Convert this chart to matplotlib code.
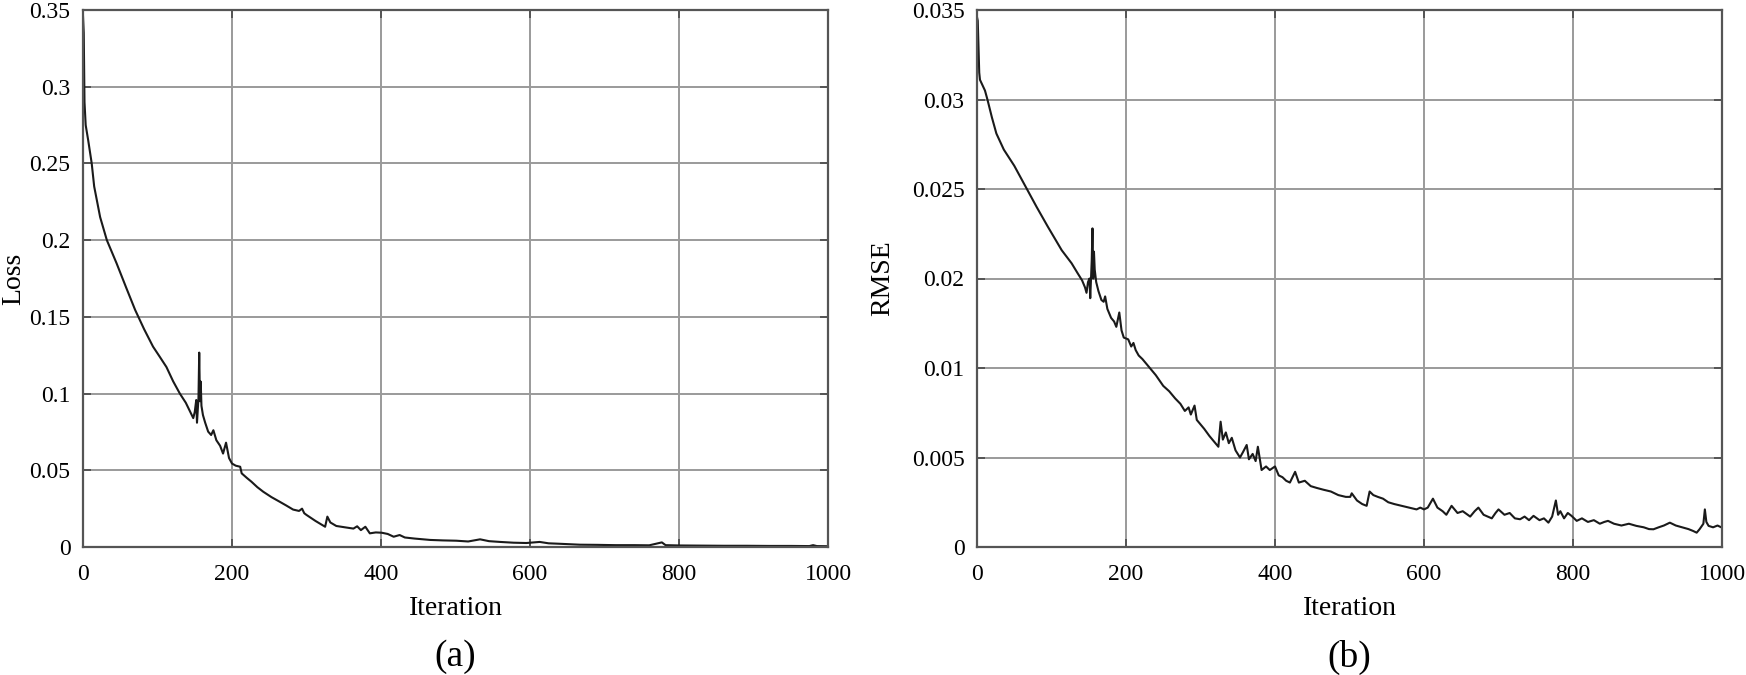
import matplotlib
matplotlib.use('Agg')
import matplotlib.pyplot as plt

# (a) Loss curve
loss_iter = [0, 1, 2, 3.6, 7, 11.7, 15, 23, 32, 45, 58, 70, 82, 94, 103, 112, 121, 130, 138,
             144, 148, 150, 152, 153, 155, 156, 157, 158, 159, 161, 164, 168, 172, 175, 179,
             184, 188, 192, 196, 200, 205, 211, 213, 220, 226, 234, 242, 253, 264, 273, 282,
             290, 294, 297, 300, 312, 325, 328, 332, 340, 352, 363, 368, 373, 379, 385, 393,
             401, 409, 417, 425, 432, 445, 466, 483, 501, 517, 533, 545, 560, 578, 595, 613,
             625, 640, 667, 690, 715, 740, 760, 777, 782, 800, 830, 860, 890, 920, 950, 975,
             980, 985, 1000]
loss_val = [0.346, 0.335, 0.29, 0.275, 0.265, 0.25, 0.235, 0.215, 0.200, 0.185, 0.169, 0.1545,
            0.142, 0.1306, 0.124, 0.1173, 0.108, 0.100, 0.094, 0.088, 0.084, 0.088, 0.0958,
            0.081, 0.097, 0.1267, 0.095, 0.1078, 0.092, 0.086, 0.081, 0.0752, 0.073, 0.0761,
            0.0696, 0.066, 0.0609, 0.068, 0.058, 0.0544, 0.053, 0.0523, 0.048, 0.045, 0.0426,
            0.039, 0.036, 0.0325, 0.0295, 0.027, 0.0244, 0.0235, 0.025, 0.022, 0.0209, 0.017,
            0.0132, 0.0198, 0.016, 0.0137, 0.0128, 0.012, 0.0135, 0.011, 0.0132, 0.0089,
            0.0095, 0.0093, 0.0085, 0.0067, 0.0078, 0.0062, 0.0055, 0.0046, 0.0043, 0.0041,
            0.0036, 0.005, 0.0038, 0.0033, 0.0028, 0.0026, 0.0033, 0.0024, 0.0021, 0.0015,
            0.0014, 0.0012, 0.0012, 0.0011, 0.0030, 0.0012, 0.0010, 0.0009, 0.0008, 0.0008,
            0.0007, 0.0007, 0.0006, 0.0012, 0.0006, 0.0005]

# (b) RMSE curve (in the axis' own grid units, top grid line = 0.03)
rmse_iter = [0, 1, 3, 4, 10.7, 14, 20, 26, 36, 50, 67, 80, 95, 113.7, 127, 135, 141, 145, 147,
             149, 151, 152, 154, 155, 156, 157, 158, 160, 163, 167, 170, 172, 175, 180, 184,
             187, 191, 194, 197, 203, 207, 210, 213, 217, 222, 226, 232, 240, 250, 258, 266,
             273, 279, 284, 287, 292, 295, 299, 305, 312, 318, 324, 327, 330, 334, 338, 342,
             347, 353, 357, 362, 365, 370, 374, 377, 382, 388, 393, 400, 405, 410, 415, 420,
             427, 432, 440, 448, 456, 465, 475, 485, 495, 501, 503, 510, 517, 523, 527, 532,
             538, 545, 552, 560, 570, 580, 590, 595, 600, 605, 612, 618, 625, 630, 637, 645,
             652, 662, 668, 673, 680, 691, 696, 700, 708, 715, 722, 729, 735, 741, 747, 755,
             761, 767, 772, 777, 780, 783, 788, 793, 798, 805, 812, 820, 828, 836, 842, 847,
             855, 865, 875, 885, 895, 902, 908, 915, 922, 930, 938, 948, 955, 961, 966, 970,
             973, 975, 977, 979, 982, 988, 994, 1000]
rmse_val = [0.0296, 0.0294, 0.0265, 0.0261, 0.0255, 0.0250, 0.0240, 0.0231, 0.0222, 0.0213,
            0.0200, 0.0190, 0.0179, 0.01658, 0.01585, 0.0153, 0.0149, 0.0145, 0.0142, 0.0148,
            0.0150, 0.0139, 0.0160, 0.0178, 0.0150, 0.0165, 0.0155, 0.0148, 0.0143, 0.0138,
            0.0137, 0.0140, 0.0133, 0.0128, 0.0126, 0.0123, 0.0131, 0.0121, 0.0117, 0.0116,
            0.0112, 0.0114, 0.0110, 0.0107, 0.0105, 0.0103, 0.0100, 0.0096, 0.0090, 0.0087,
            0.0083, 0.0080, 0.0076, 0.0078, 0.0074, 0.0079, 0.0071, 0.0069, 0.0066, 0.0062,
            0.0059, 0.0056, 0.0070, 0.0060, 0.0064, 0.0058, 0.0061, 0.0054, 0.0050, 0.0053,
            0.0057, 0.0049, 0.0052, 0.0048, 0.0056, 0.0043, 0.0045, 0.0043, 0.0045, 0.0040,
            0.0039, 0.0037, 0.0036, 0.0042, 0.0036, 0.0037, 0.0034, 0.0033, 0.0032, 0.0031,
            0.0029, 0.0028, 0.0028, 0.0030, 0.0026, 0.0024, 0.0023, 0.0031, 0.0029, 0.0028,
            0.0027, 0.0025, 0.0024, 0.0023, 0.0022, 0.0021, 0.0022, 0.0021, 0.0022, 0.0027,
            0.0022, 0.0020, 0.0018, 0.0023, 0.0019, 0.0020, 0.0017, 0.0020, 0.0022, 0.0018,
            0.0016, 0.0019, 0.0021, 0.0018, 0.0019, 0.0016, 0.00155, 0.0017, 0.0015, 0.00174,
            0.0015, 0.0016, 0.00136, 0.0017, 0.0026, 0.0018, 0.0020, 0.0016, 0.0019, 0.00174,
            0.00146, 0.0016, 0.0014, 0.0015, 0.0013, 0.0014, 0.00146, 0.0013, 0.0012, 0.0013,
            0.00118, 0.0011, 0.0010, 0.00099, 0.0011, 0.0012, 0.00136, 0.0012, 0.00108, 0.0010,
            0.0009, 0.0008, 0.0010, 0.00118, 0.0013, 0.0021, 0.0014, 0.00118, 0.0011, 0.0012,
            0.00108]

x_ticks = [0, 200, 400, 600, 800, 1000]
loss_ticks = [0, 0.05, 0.1, 0.15, 0.2, 0.25, 0.3, 0.35]
loss_tick_labels = ['0', '0.05', '0.1', '0.15', '0.2', '0.25', '0.3', '0.35']
rmse_ticks = [0, 0.005, 0.01, 0.015, 0.02, 0.025, 0.03]
rmse_tick_labels = ['0', '0.005', '0.01', '0.02', '0.025', '0.03', '0.035']

plt.rcParams['font.family'] = ['Liberation Serif', 'DejaVu Serif']

W, H = 1746, 675
fig = plt.figure(figsize=(W / 100, H / 100), dpi=100)

def make_ax(left_px):
    return fig.add_axes([left_px / W, (H - 547) / H, 745 / W, 537 / H])

ax1 = make_ax(83)
ax2 = make_ax(977)

# last number: px from the axis to the right edge of the (rotated) y label
panels = [
    (ax1, loss_iter, loss_val, loss_ticks, loss_tick_labels, (0, 0.35), 'Loss', -57, '(a)'),
    (ax2, rmse_iter, rmse_val, rmse_ticks, rmse_tick_labels, (0, 0.03), 'RMSE', -82, '(b)'),
]

for ax, xs, ys, yt, ytl, ylim, ylab, ylab_dx, tag in panels:
    ax.plot(xs, ys, color='#1a1a1a', lw=1.5)
    ax.set_xlim(0, 1000)
    ax.set_ylim(*ylim)
    ax.set_xticks(x_ticks)
    ax.set_yticks(yt)
    ax.set_yticklabels(ytl)
    ax.grid(True, color='#9a9a9a', lw=1.4)
    ax.set_axisbelow(True)
    for s in ax.spines.values():
        s.set_color('#555555')
        s.set_linewidth(1.6)
    ax.tick_params(direction='in', top=True, right=True, length=6, width=1.4,
                   color='#555555', labelsize=17)
    ax.tick_params(axis='x', pad=12)
    ax.tick_params(axis='y', pad=9)
    ax.set_xlabel('Iteration', fontsize=20, labelpad=8)
    ax.set_ylabel(ylab, fontsize=20)
    ax.yaxis.set_label_coords(ylab_dx / 745, 0.5)
    pos = ax.get_position()
    fig.text((pos.x0 + pos.x1) / 2, 1 - 657 / H, tag, ha='center', va='center', fontsize=27)

fig.savefig('out.png', dpi=100)
